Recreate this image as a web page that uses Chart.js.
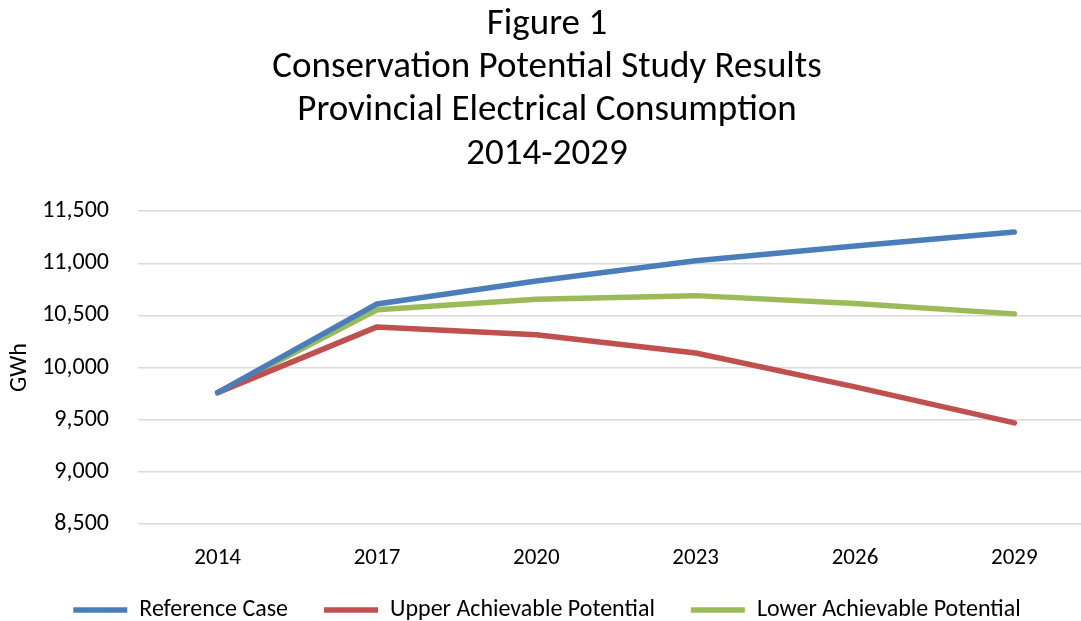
<!DOCTYPE html>
<html>
<head>
<meta charset="utf-8">
<script src="https://cdn.jsdelivr.net/npm/chart.js@4"></script>
<style>
  html, body { margin: 0; padding: 0; background: #fff; overflow: hidden; }
  #box { width: 1094px; height: 621px; position: relative; }
</style>
</head>
<body>
<div id="box"><canvas id="grafico"></canvas></div>
<script>
const anos = ["2014", "2017", "2020", "2023", "2026", "2029"];
const referenceCase = [9760, 10610, 10830, 11025, 11165, 11300];
const upperPotential = [9760, 10390, 10315, 10140, 9815, 9470];
const lowerPotential = [9760, 10555, 10655, 10690, 10615, 10515];
const titulo = [
  "Figure 1",
  "Conservation Potential Study Results",
  "Provincial Electrical Consumption",
  "2014-2029"
];

const fonte = "Carlito, Calibri, 'Open Sans', sans-serif";
const alturaLegenda = 52;
const topoLegenda = 562;

function serie(label, data, cor) {
  return {
    label,
    data,
    borderColor: cor,
    backgroundColor: cor,
    borderWidth: 5.5,
    borderCapStyle: "round",
    borderJoinStyle: "round",
    pointRadius: 0,
    pointHoverRadius: 0,
    pointStyle: "line",
    tension: 0,
    fill: false
  };
}

// legenda mais baixa: o padding largo serve so para separar os itens
const legendaCompacta = {
  id: "legendaCompacta",
  beforeInit(chart) {
    const fitOriginal = chart.legend.fit;
    chart.legend.fit = function () {
      fitOriginal.call(this);
      this.height = alturaLegenda;
    };
  },
  afterLayout(chart) {
    const l = chart.legend;
    l.top = topoLegenda;
    l.bottom = chart.height;
    l.height = l.bottom - l.top;
  }
};

const ctx = document.getElementById("grafico").getContext("2d");
new Chart(ctx, {
  type: "line",
  data: {
    labels: anos,
    datasets: [
      serie("Reference Case", referenceCase, "#4a7ebb"),
      serie("Upper Achievable Potential", upperPotential, "#c0504d"),
      serie("Lower Achievable Potential", lowerPotential, "#9bbb59")
    ]
  },
  options: {
    responsive: true,
    maintainAspectRatio: false,
    animation: false,
    layout: { padding: { left: 0, right: 0, top: 0, bottom: 0 } },
    plugins: {
      tooltip: { enabled: false },
      title: {
        display: true,
        text: titulo,
        color: "#000",
        font: { family: fonte, size: 37, weight: "normal", lineHeight: 1.17 },
        padding: { top: 3, bottom: 35 }
      },
      legend: {
        position: "bottom",
        labels: {
          usePointStyle: true,
          pointStyle: "line",
          pointStyleWidth: 54,
          color: "#000",
          padding: 36,
          font: { family: fonte, size: 24 }
        }
      }
    },
    scales: {
      x: {
        offset: true,
        afterFit: (s) => { s.height = 45; },
        grid: { display: false },
        border: { display: false },
        ticks: { color: "#000", font: { family: fonte, size: 23 }, padding: 12, maxRotation: 0 }
      },
      y: {
        min: 8500,
        max: 11500,
        afterFit: (s) => { s.width = 138; },
        grid: { color: "#d9d9d9", lineWidth: 1.5, drawTicks: false },
        border: { display: false },
        ticks: {
          stepSize: 500,
          color: "#000",
          padding: 29,
          font: { family: fonte, size: 24 },
          callback: (v) => v.toLocaleString("en-US")
        },
        title: {
          display: true,
          text: "GWh",
          color: "#000",
          font: { family: fonte, size: 24 },
          padding: { top: 6, bottom: 0 }
        }
      }
    }
  },
  plugins: [legendaCompacta]
});
</script>
</body>
</html>
